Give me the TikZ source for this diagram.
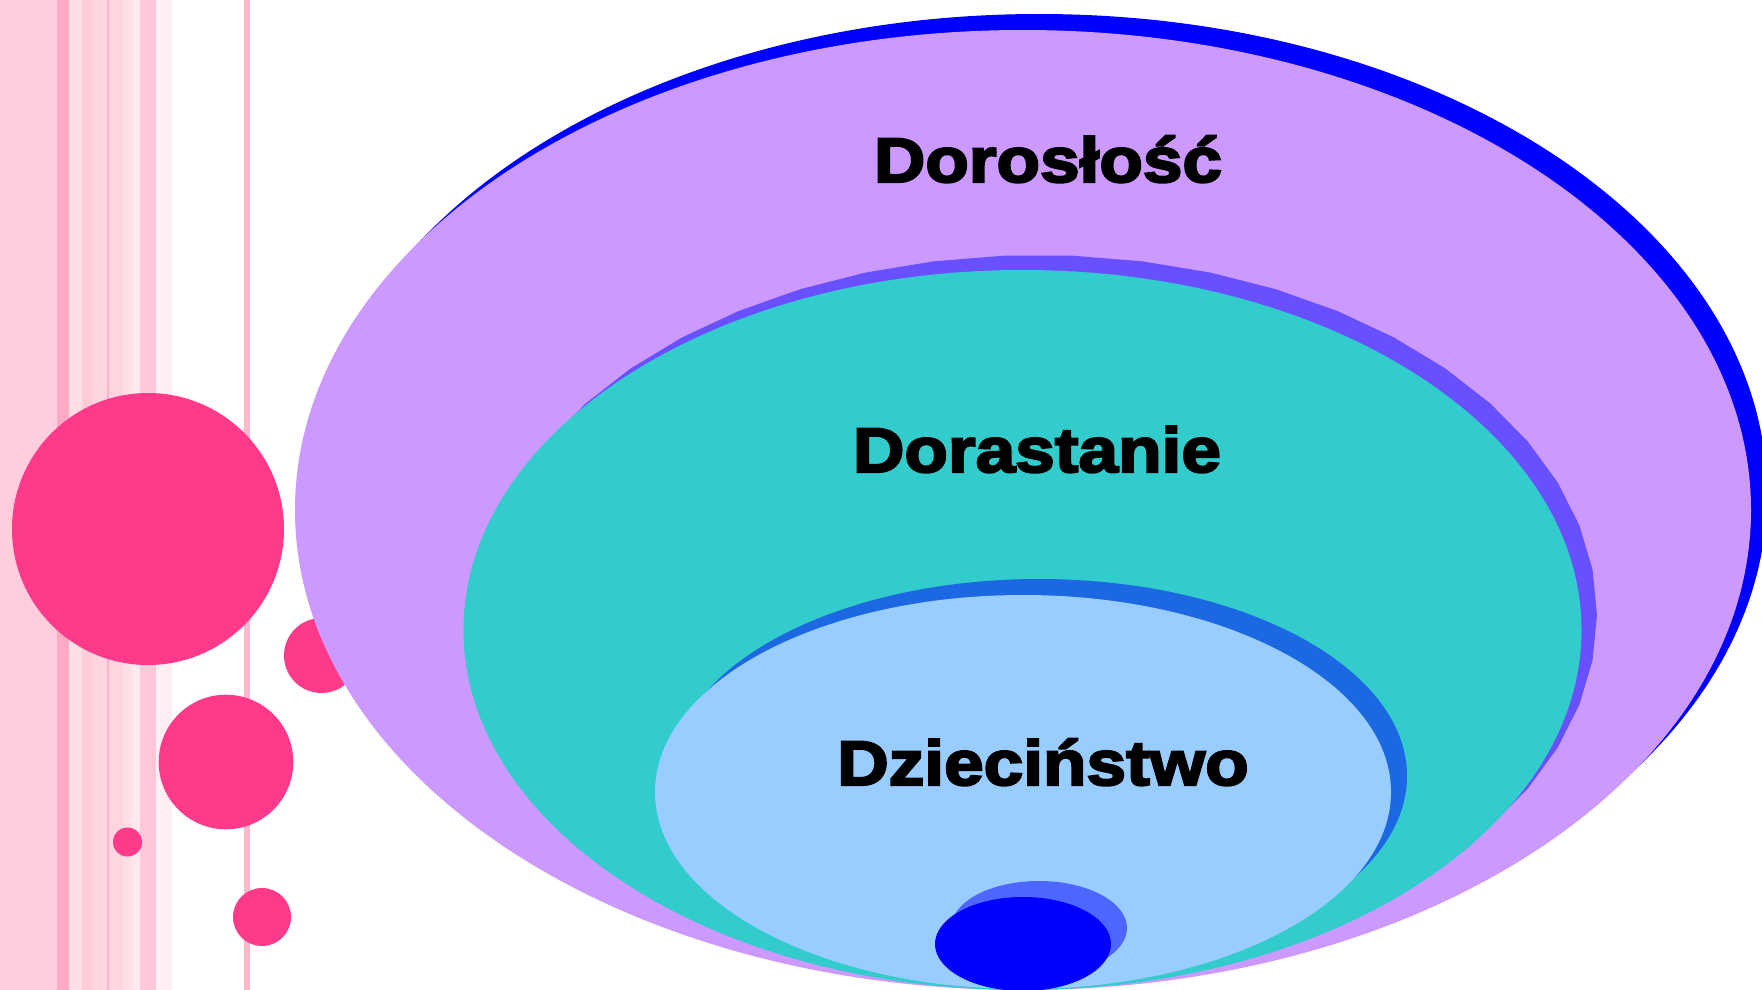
\documentclass[tikz,border=0pt]{standalone}
\usepackage{fontspec}
\newfontfamily\lbl{Liberation Sans}[BoldFeatures={FakeBold=3.5,FakeStretch=1.13}]
\definecolor{stA}{RGB}{255,206,221}
\definecolor{stB}{RGB}{255,170,196}
\definecolor{stC}{RGB}{255,222,230}
\definecolor{stD}{RGB}{255,204,218}
\definecolor{stE}{RGB}{255,214,224}
\definecolor{stF}{RGB}{255,180,200}
\definecolor{stG}{RGB}{255,232,238}
\definecolor{stH}{RGB}{255,200,216}
\definecolor{stI}{RGB}{255,238,242}
\definecolor{stL}{RGB}{255,187,204}
\definecolor{dotpink}{RGB}{255,58,138}
\definecolor{lav}{RGB}{204,153,255}
\definecolor{shblue}{RGB}{0,0,255}
\definecolor{tealc}{RGB}{51,204,204}
\definecolor{shviolet}{RGB}{104,80,255}
\definecolor{skyc}{RGB}{153,204,255}
\definecolor{shmid}{RGB}{28,104,226}
\definecolor{shsmall}{RGB}{77,102,255}
\tikzset{
  stripe/.style={fill=#1, draw=none},
  dot/.style={fill=dotpink, draw=none},
  lbltext/.style={font=\lbl\bfseries\fontsize{63}{63}\selectfont, text=black, inner sep=0pt, anchor=base},
}
\begin{document}
\begin{tikzpicture}[x=1pt,y=-1pt]
\useasboundingbox (0,0) rectangle (1762,990);
\clip (0,0) rectangle (1762,990);
\fill[white] (0,0) rectangle (1762,990);
% stripes
\fill[stripe=stA] (0,0) rectangle (57,990);
\fill[stripe=stB] (57,0) rectangle (69,990);
\fill[stripe=stC] (69,0) rectangle (82,990);
\fill[stripe=stD] (82,0) rectangle (92,990);
\fill[stripe=stE] (92,0) rectangle (107,990);
\fill[stripe=stF] (107,0) rectangle (109,990);
\fill[stripe=stE] (109,0) rectangle (123,990);
\fill[stripe=stC] (123,0) rectangle (131,990);
\fill[stripe=stG] (131,0) rectangle (140,990);
\fill[stripe=stH] (140,0) rectangle (156,990);
\fill[stripe=stI] (156,0) rectangle (172,990);
\fill[stripe=stL] (243.7,0) rectangle (250,990);
% pink dots
\fill[dot] (148,529) circle[radius=136pt];
\fill[dot] (321.5,655.5) circle[radius=37.5pt];
\fill[dot] (226,762) circle[radius=67.3pt];
\fill[dot] (127.5,842) circle[radius=14.5pt];
\fill[dot] (262,917) circle[radius=29pt];
% outer
\fill[shblue] (1039,494) ellipse[x radius=728pt, y radius=480pt];
\fill[lav] (1023,510) ellipse[x radius=728pt, y radius=480pt];
% middle
\fill[shviolet] plot[samples=51, domain=0:360] ({1038+559*cos(\x)},{615-360*sin(\x)}) -- cycle;
\fill[tealc] (1022.5,630) ellipse[x radius=559pt, y radius=360pt];
% inner
\fill[shmid] (1039,776) ellipse[x radius=368pt, y radius=197pt];
\fill[skyc] (1023,792) ellipse[x radius=368pt, y radius=197pt];
% small
\fill[shsmall] (1039,928) ellipse[x radius=88pt, y radius=47pt];
\fill[shblue] (1023,944) ellipse[x radius=88pt, y radius=47pt];
% labels
\node[lbltext] (adult) at (1048,182) {Dorosłość};
\node[lbltext] (teen) at (1037,472) {Dorastanie};
\node[lbltext] (child) at (1043,785) {Dzieciństwo};
\end{tikzpicture}
\end{document}
